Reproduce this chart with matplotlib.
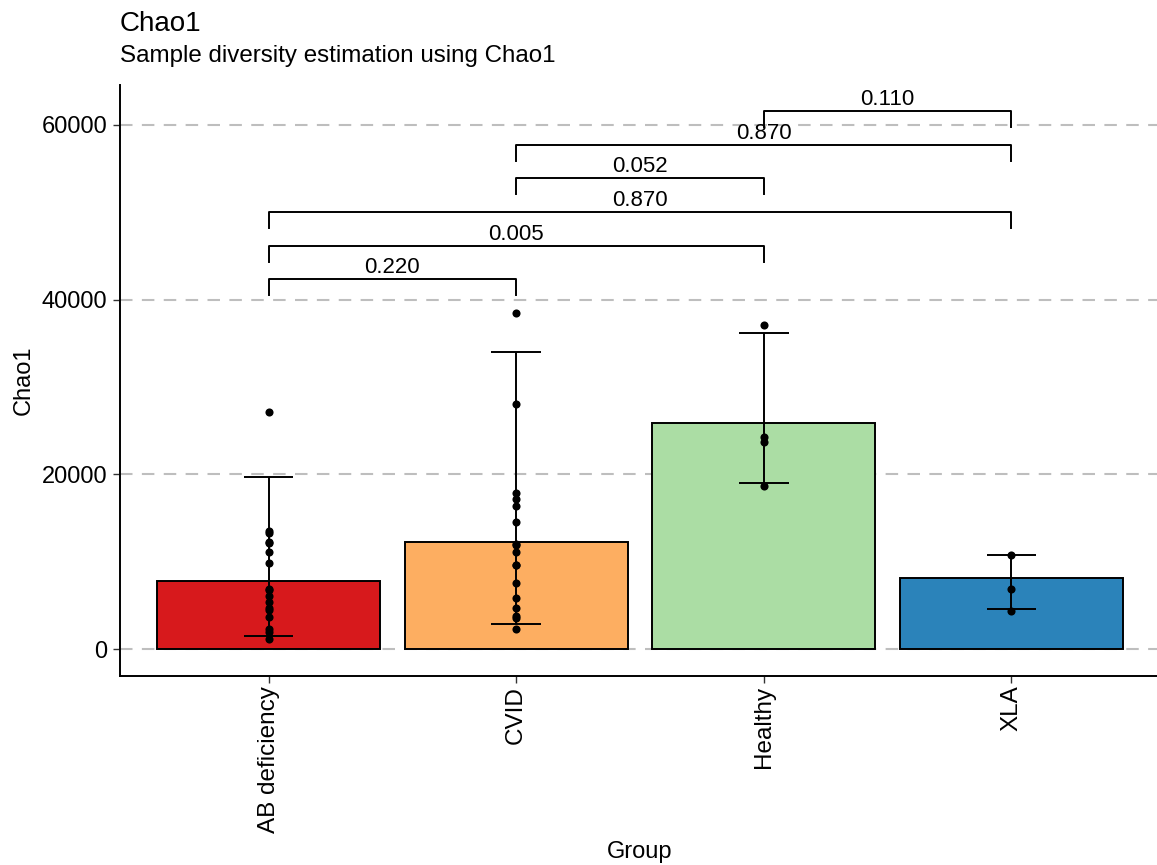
import matplotlib
matplotlib.use("Agg")
import matplotlib.pyplot as plt

plt.rcParams['font.family'] = ['Liberation Sans', 'DejaVu Sans']

# group summaries
groups = ["AB deficiency", "CVID", "Healthy", "XLA"]
colors = ["#D7191C", "#FDAE61", "#ABDDA4", "#2B83BA"]
bar_height = [7750, 12290, 25900, 8170]
err_low = [1520, 2860, 19050, 4540]
err_high = [19660, 34050, 36150, 10760]

# individual samples
ab_points = [27100, 13550, 13300, 12300, 12100, 11100, 9900, 6900, 6700,
             6070, 5380, 4690, 4470, 3630, 2250, 1950, 1100]
cvid_points = [38470, 28000, 17900, 17140, 16370, 14500, 12000, 11900,
               11070, 9620, 9620, 7600, 5800, 4660, 3780, 3500, 2330]
healthy_points = [37100, 24300, 23740, 18660]
xla_points = [10760, 6870, 4310]
points = [ab_points, cvid_points, healthy_points, xla_points]

# pairwise comparisons
pairs = [(0, 1), (0, 2), (0, 3), (1, 2), (1, 3), (2, 3)]
p_labels = ["0.220", "0.005", "0.870", "0.052", "0.870", "0.110"]
bracket_y = [42330, 46180, 50000, 53900, 57700, 61600]

W, H = 1157, 865
fig = plt.figure(figsize=(W / 100, H / 100), dpi=100)
ax = fig.add_axes([120 / W, 1 - 676 / H, 1040 / W, 591 / H])

# grid
for y in [0, 20000, 40000, 60000]:
    ax.axhline(y, color="#BEBEBE", lw=1.5, ls=(0, (6, 4.5)), zorder=0)

x = list(range(len(groups)))
ax.bar(x, bar_height, width=0.9, color=colors, edgecolor="black",
       linewidth=1.4, zorder=2)

for i in x:
    ax.vlines(i, err_low[i], err_high[i], color="black", lw=1.4, zorder=3)
    ax.hlines([err_low[i], err_high[i]], i - 0.1, i + 0.1, color="black",
              lw=1.4, zorder=3)
    ax.scatter([i] * len(points[i]), points[i], s=34, color="black",
               zorder=4, linewidths=0)

tip = 1830
for (a, b), lab, y in zip(pairs, p_labels, bracket_y):
    ax.plot([a, a, b, b], [y - tip, y, y, y - tip], color="black", lw=1.4,
            zorder=3)
    ax.text((a + b) / 2, y + 700, lab, ha="center", va="baseline",
            fontsize=16)

ax.set_xlim(-0.6, 3.6)
ax.set_ylim(-3090, 64580)
ax.set_xticks(x)
ax.set_xticklabels(groups, rotation=90, fontsize=17.5)
ax.set_yticks([0, 20000, 40000, 60000])
ax.set_yticklabels(["0", "20000", "40000", "60000"], fontsize=17)
ax.tick_params(axis="both", length=5, width=1, color="#333333", pad=4)
ax.tick_params(axis="x", pad=2)

for s in ["top", "right"]:
    ax.spines[s].set_visible(False)
for s in ["left", "bottom"]:
    ax.spines[s].set_linewidth(1.4)

ax.set_ylabel("Chao1", fontsize=17)
ax.yaxis.set_label_coords(-0.082, 0.5)
ax.set_xlabel("Group", fontsize=17)
ax.xaxis.set_label_coords(0.5, -0.28)

fig.text(120 / W, 1 - 31 / H, "Chao1", fontsize=20, va="baseline")
fig.text(120 / W, 1 - 62 / H, "Sample diversity estimation using Chao1",
         fontsize=17.4, va="baseline")

fig.savefig("out.png", dpi=100)
